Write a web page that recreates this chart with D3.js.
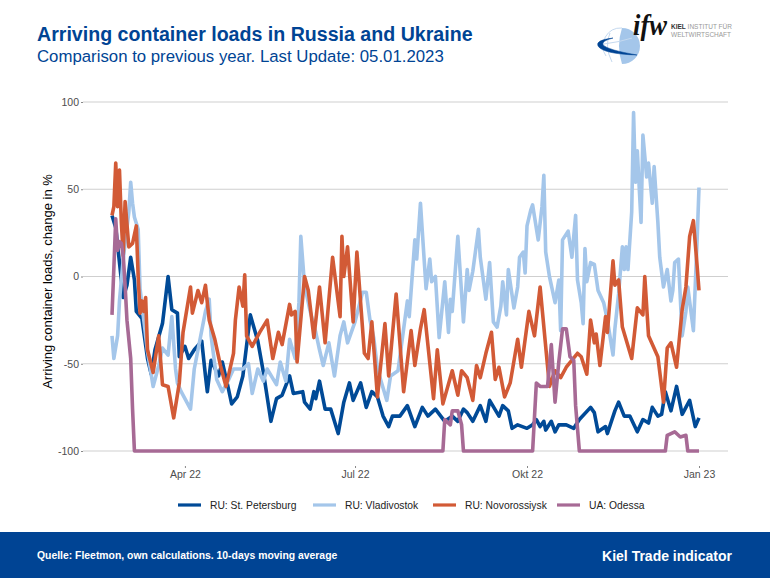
<!DOCTYPE html>
<html>
<head>
<meta charset="utf-8">
<script src="https://cdn.jsdelivr.net/npm/d3@7"></script>
<style>
  html, body { margin: 0; padding: 0; background: #fff; }
  text { font-family: "Liberation Sans", Arial, sans-serif; }
</style>
</head>
<body>
<div id="chart"></div>
<script>
"use strict";

// days since the first reading (21 Feb 2022) and arriving loads, change in %
const firstDay = new Date(Date.UTC(2022, 1, 21));

const petersburgDays = [0,2,4,6,8,10,12,13,16,19,21,23,27,30,32,35,36,39,41,44,48,50,51,53,57,59,62,64,67,70,74,78,81,85,88,91,95,97,102,103,106,108,109,111,114,117,121,124,127,129,133,136,139,142,145,148,150,154,158,162,166,169,173,178,182,185,188,190,193,197,200,202,207,209,212,214,217,222,225,227,229,231,232,235,237,239,243,247,250,256,258,260,264,265,269,271,274,277,281,284,287,289,292,294,296,299,302,305,309,312,314];
const petersburgValues = [35,28,8,-12,-5,11,-2,-20,-24,-47,-56,-42,-27,0,-19,-21,-46,-40,-47,-42,-37,-57,-66,-48,-57,-49,-63,-73,-69,-57,-22,-37,-55,-83,-70,-68,-57,-67,-66,-72,-76,-66,-70,-60,-76,-76,-90,-72,-61,-71,-61,-75,-66,-69,-80,-86,-80,-80,-74,-86,-75,-80,-76,-83,-80,-83,-76,-78,-83,-74,-83,-71,-80,-74,-77,-87,-85,-87,-85,-82,-86,-83,-88,-83,-89,-85,-85,-87,-82,-75,-78,-89,-86,-90,-77,-72,-80,-80,-89,-82,-84,-75,-80,-79,-66,-77,-63,-79,-71,-86,-81];

const vladivostokDays = [0,1,3,4,6,9,10,11,12,14,15,17,19,22,25,27,30,32,34,35,37,41,42,44,50,52,53,56,59,62,65,70,73,75,78,81,83,88,90,93,95,98,100,101,103,106,109,111,113,116,119,122,124,126,130,134,136,138,140,142,147,149,153,158,159,162,163,165,168,170,171,173,175,178,180,181,182,185,188,190,191,193,196,197,200,202,204,206,208,209,211,212,215,217,218,220,221,222,224,225,228,230,231,232,234,237,239,240,241,244,246,248,249,251,252,253,254,256,258,260,263,265,268,269,271,273,274,275,276,278,279,280,281,283,284,286,287,289,290,292,293,295,297,299,300,301,303,305,307,308,311,312,313,314];
const vladivostokValues = [-34,-47,-34,-14,10,37,54,42,34,27,-7,-25,-43,-63,-51,-41,-45,-23,-53,-61,-66,-74,-76,-53,-20,-13,-34,-59,-66,-60,-53,-53,-50,-67,-53,-60,-53,-62,-49,-60,-36,-47,-15,23,-5,-20,-32,-42,-51,-38,-57,-34,-26,-38,-26,-9,-9,-25,-35,-53,-71,-57,-54,-14,-23,21,10,42,-7,10,-3,0,-35,-3,-32,-13,-20,23,-26,4,-8,3,27,11,-13,8,-26,-29,-17,-3,-22,4,-18,-6,11,14,2,29,38,41,21,40,58,14,0,-15,-2,-31,21,26,11,35,-2,-15,-27,16,-3,8,7,-8,-15,-25,-45,-30,-10,17,4,17,4,37,94,54,72,31,81,57,65,42,63,31,11,-6,4,-14,-8,8,10,-34,-20,-6,-31,-5,21,51];

const novorossiyskDays = [0,1,2,3,4,5,6,7,9,11,13,14,15,16,17,18,19,22,25,27,30,33,36,38,42,43,46,48,50,52,55,58,61,65,66,68,70,71,72,75,79,83,86,89,91,95,96,98,99,103,105,108,111,114,118,122,123,124,126,129,131,135,137,139,142,146,148,152,156,160,162,165,167,172,174,177,182,185,187,190,193,195,197,200,203,205,207,210,213,217,219,223,226,229,234,237,240,243,249,251,254,256,258,259,261,264,265,268,269,271,273,278,281,284,285,287,292,295,297,299,302,305,307,309,311,313,314];
const novorossiyskValues = [35,40,65,40,61,31,12,43,17,19,29,0,-21,-14,-20,-12,-42,-55,-34,-62,-63,-81,-61,-32,-6,-21,-8,-15,-5,-25,-36,-51,-63,-44,-25,-6,-17,1,-34,-40,-32,-25,-47,-32,-39,-16,-22,-20,-49,0,-8,-35,-6,-38,11,-23,23,0,17,-26,14,-44,-47,-26,-69,-27,-57,-10,-66,-31,-51,-30,-19,-70,-42,-73,-54,-68,-54,-58,-71,-51,-58,-44,-32,-59,-52,-69,-61,-36,-52,-20,-34,-6,-63,-54,-58,-52,-44,-46,-56,-25,-38,-33,-51,-23,-32,9,-5,-2,-29,-47,-18,-22,0,-34,-46,-72,-41,-38,-52,-19,-6,23,32,6,-8];

const odessaDays = [0,1,2,3,4,5,6,7,8,10,11,12,177,178,181,182,185,187,188,225,227,229,233,235,237,239,241,243,245,247,248,250,296,297,301,304,307,308,314];
const odessaValues = [-22,5,33,15,20,19,12,-5,-25,-47,-76,-100,-100,-82,-85,-77,-77,-85,-100,-100,-61,-63,-63,-39,-72,-49,-30,-30,-46,-48,-74,-100,-100,-91,-89,-92,-91,-100,-100];

const seriesNames = ["RU: St. Petersburg", "RU: Vladivostok", "RU: Novorossiysk", "UA: Odessa"];
const seriesDays = [petersburgDays, vladivostokDays, novorossiyskDays, odessaDays];
const seriesValues = [petersburgValues, vladivostokValues, novorossiyskValues, odessaValues];
const seriesColors = ["#004a97", "#a4c6ea", "#d25a36", "#a76a95"];

const yTicks = [-100, -50, 0, 50, 100];
const xTickDates = [new Date(Date.UTC(2022, 3, 1)), new Date(Date.UTC(2022, 6, 1)), new Date(Date.UTC(2022, 9, 1)), new Date(Date.UTC(2023, 0, 1))];
const xTickLabels = ["Apr 22", "Jul 22", "Okt 22", "Jan 23"];

const width = 770, height = 578;
const svg = d3.select("#chart").append("svg").attr("width", width).attr("height", height).style("display", "block");

const x = d3.scaleUtc()
  .domain([firstDay, xTickDates[3]])
  .range([112, 699]);
const y = d3.scaleLinear().domain([-100, 100]).range([451, 102]);

// grid and y axis
const yAxis = d3.axisLeft(y).tickValues(yTicks).tickFormat(d => String(d)).tickSize(2).tickPadding(2);
const yG = svg.append("g").attr("transform", "translate(83,0)").call(yAxis);
yG.select(".domain").remove();
yG.selectAll("line").attr("stroke", "#888").attr("stroke-width", 1);
yG.selectAll("text").attr("fill", "#4d4d4d").style("font-size", "10.5px").style("font-family", "'Liberation Sans', Arial, sans-serif");

svg.append("g").selectAll("line").data(yTicks).enter().append("line")
  .attr("x1", 83).attr("x2", 728)
  .attr("y1", d => y(d)).attr("y2", d => y(d))
  .attr("stroke", "#cfcfcf").attr("stroke-width", 1.2);

// x axis
const xAxis = d3.axisBottom(x).tickValues(xTickDates).tickFormat((d, i) => xTickLabels[i]).tickSize(2).tickPadding(3);
const xG = svg.append("g").attr("transform", "translate(0,466)").call(xAxis);
xG.select(".domain").remove();
xG.selectAll("line").attr("stroke", "#888");
xG.selectAll("text").attr("fill", "#4d4d4d").style("font-size", "10.5px").style("font-family", "'Liberation Sans', Arial, sans-serif");

// series lines, first one at the bottom
const line = d3.line()
  .x(d => x(d3.utcDay.offset(firstDay, d[0])))
  .y(d => y(d[1]));

seriesNames.forEach(function(name, k) {
  const pts = seriesDays[k].map((d, i) => [d, seriesValues[k][i]]);
  svg.append("path").datum(pts)
    .attr("fill", "none")
    .attr("stroke", seriesColors[k])
    .attr("stroke-width", 3.6)
    .attr("stroke-linejoin", "round")
    .attr("d", line);
});

// y axis title
svg.append("text").attr("transform", "translate(52,281.5) rotate(-90)")
  .attr("text-anchor", "middle").attr("fill", "#000").style("font-size", "13px")
  .text("Arriving container loads, change in %");

// legend
const legendX = [178, 313, 433, 557];
seriesNames.forEach(function(name, k) {
  svg.append("line").attr("x1", legendX[k]).attr("x2", legendX[k] + 23).attr("y1", 505).attr("y2", 505)
    .attr("stroke", seriesColors[k]).attr("stroke-width", 3.2);
  svg.append("text").attr("x", legendX[k] + 32).attr("y", 509).attr("fill", "#222").style("font-size", "10.3px").text(name);
});

// header
svg.append("text").attr("x", 37).attr("y", 41).attr("fill", "#004494").style("font-size", "19.6px").style("font-weight", "bold")
  .text("Arriving container loads in Russia and Ukraine");
svg.append("text").attr("x", 37).attr("y", 62).attr("fill", "#004494").style("font-size", "16.8px")
  .text("Comparison to previous year. Last Update: 05.01.2023");

// footer band
svg.append("rect").attr("x", 0).attr("y", 532).attr("width", width).attr("height", 46).attr("fill", "#004494");
svg.append("text").attr("x", 37).attr("y", 559).attr("fill", "#fff").style("font-size", "10.4px").style("font-weight", "bold")
  .text("Quelle: Fleetmon, own calculations. 10-days moving average");
svg.append("text").attr("x", 732).attr("y", 561).attr("text-anchor", "end").attr("fill", "#fff").style("font-size", "14px").style("font-weight", "bold")
  .text("Kiel Trade indicator");

// logo
const logo = svg.append("g");
logo.append("path").attr("d", "M622,28 A18,18 0 0 1 622,64 Q616,46 622,28 Z").attr("fill", "#a4c6ea");
logo.append("path").attr("d", "M622,28 A18,18 0 0 0 606,56").attr("fill", "none").attr("stroke", "#c5d9ef").attr("stroke-width", 1);
logo.append("path").attr("d", "M610,33 Q604,46 612,62 M604,44 Q620,42 632,38").attr("fill", "none").attr("stroke", "#c5d9ef").attr("stroke-width", 1);
logo.append("path").attr("d", "M613,38 Q595,40 598,46 Q603,54 637,55 Q608,50 603,45 Q601,41 613,38 Z").attr("fill", "#004494").attr("stroke", "#004494").attr("stroke-width", 0.5);
logo.append("text").attr("x", 633).attr("y", 35).attr("fill", "#111")
  .attr("textLength", 34).attr("lengthAdjust", "spacingAndGlyphs")
  .style("font-family", "'Liberation Serif', serif").style("font-style", "italic").style("font-weight", "bold").style("font-size", "30px")
  .text("ifw");
logo.append("text").attr("x", 671).attr("y", 29).style("font-size", "6.5px").attr("fill", "#999")
  .html('<tspan font-weight="bold" fill="#333">KIEL</tspan> INSTITUT FÜR');
logo.append("text").attr("x", 671).attr("y", 36.5).style("font-size", "6.5px").attr("fill", "#999").text("WELTWIRTSCHAFT");
</script>
</body>
</html>
